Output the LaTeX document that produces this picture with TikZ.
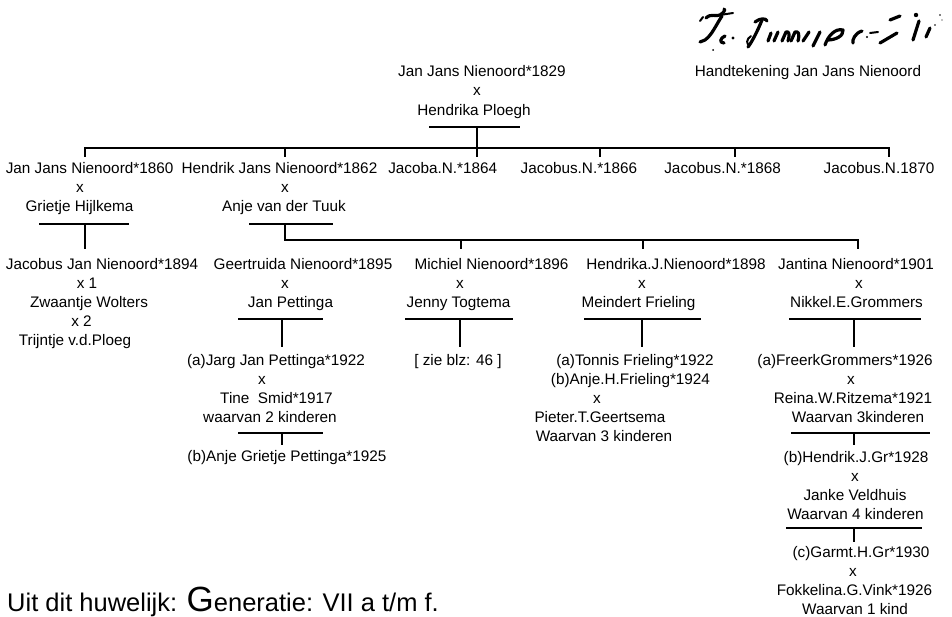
\documentclass[tikz,border=0pt]{standalone}
\usepackage{fontspec}
\setmainfont{Liberation Sans}
\usetikzlibrary{calc}
\begin{document}
\begin{tikzpicture}[x=1pt,y=-1pt,
  t/.style={font=\fontsize{15.3}{19}\selectfont, inner sep=0pt, anchor=base},
  ln/.style={line width=2.5pt},
  sig/.style={line width=3.2pt, line cap=round, line join=round},
  sigthin/.style={line width=2pt, line cap=round, line join=round},
  dotsig/.style={fill=black}
]
\useasboundingbox (0,0) rectangle (952,617);

% ---------- signature ----------
\draw[sigthin] (700,21) -- (703,17);
\draw[sig] (706,18) .. controls (711,13) and (716,17) .. (720,15) .. controls (723,13) and (726,10) .. (724,9);
\draw[sigthin] (720,15) -- (733,13);
\draw[sig] (722,16) .. controls (716,25) and (712,35) .. (705,40) -- (700,42);
\draw[sig] (725,36) .. controls (720,38) and (719,43) .. (724,43);
\fill[dotsig] (733,38) circle (1.6);
\fill[dotsig] (713,50) circle (1);
\draw[sig] (755,22) .. controls (760,18) and (766,18) .. (767,21);
\draw[sig] (762,20) .. controls (758,30) and (752,42) .. (748,47);
\draw[sigthin] (751,36) .. controls (746,39) and (746,45) .. (750,45);
\draw[sig] (768,41) -- (771,33);
\draw[sig] (774,41) -- (778,32);
\draw[sig] (782,41) -- (786,32) .. controls (789,31) and (790,34) .. (788,41);
\draw[sig] (791,41) -- (795,32) .. controls (798,31) and (800,33) .. (798,41);
\draw[sig] (803,41) -- (809,32);
\draw[sig] (813,46) -- (820,32);
\draw[sig] (825,45) .. controls (828,36) and (835,28) .. (843,30) .. controls (844,36) and (835,40) .. (828,40);
\draw[sig] (862,31) .. controls (855,33) and (852,40) .. (853,43);
\fill[dotsig] (867,37) circle (1.2);
\draw[sigthin] (870,33) -- (878,32);
\draw[sig] (880,43) -- (897,33);
\draw[sig] (890,20) -- (900,16);
\fill[dotsig] (916,15) circle (2.2);
\draw[sig] (919,21) -- (913,40);
\draw[sig] (930,28) -- (926,37);
\fill[dotsig] (935,25) circle (0.8);
\fill[dotsig] (940,15) circle (0.8);
\fill[dotsig] (942,20) circle (0.6);
\node[t] (hand) at (808,77) {Handtekening Jan Jans Nienoord};

% ---------- generation 1 ----------
\node[t] (p0) at (482,77) {Jan Jans Nienoord*1829};
\node[t] (p0x) at (477,96) {x};
\node[t] (p0s) at (474,115.5) {Hendrika Ploegh};

\coordinate (u0l) at (429,127); \coordinate (u0r) at (520,127);
\coordinate (u0m) at (477,127); \coordinate (b1m) at (477,148);
\draw[ln] (u0l) -- (u0r);
\draw[ln] (u0m) -- (b1m);

\coordinate (b1a) at (85,148);  \coordinate (b1b) at (285,148);
\coordinate (b1d) at (600,148); \coordinate (b1e) at (735,148);
\coordinate (b1f) at (889,148);
\draw[ln] ($(b1a)+(0,9)$) -- (b1a) -- (b1f) -- ($(b1f)+(0,9)$);
\draw[ln] (b1b) -- ++(0,9);
\draw[ln] (b1m) -- ++(0,9);
\draw[ln] (b1d) -- ++(0,9);
\draw[ln] (b1e) -- ++(0,9);

% ---------- generation 2 ----------
\node[t] (c1) at (89.6,173.3) {Jan Jans Nienoord*1860};
\node[t] (c1x) at (80,192.3) {x};
\node[t] (c1s) at (79.5,211.3) {Grietje Hijlkema};
\node[t] (c2) at (279.5,173.3) {Hendrik Jans Nienoord*1862};
\node[t] (c2x) at (285,192.3) {x};
\node[t] (c2s) at (284,211.3) {Anje van der Tuuk};
\node[t] (c3) at (442.7,173.3) {Jacoba.N.*1864};
\node[t] (c4) at (579,173.3) {Jacobus.N.*1866};
\node[t] (c5) at (722.6,173.3) {Jacobus.N.*1868};
\node[t] (c6) at (879,173.3) {Jacobus.N.1870};

\coordinate (u1l) at (39,224); \coordinate (u1r) at (129,224);
\coordinate (u1m) at (85,224);
\draw[ln] (u1l) -- (u1r);
\draw[ln] (u1m) -- (85,249);

\coordinate (u2l) at (249,224); \coordinate (u2r) at (333,224);
\coordinate (u2m) at (285,224);
\draw[ln] (u2l) -- (u2r);
\coordinate (b2a) at (285,240); \coordinate (b2b) at (461,240);
\coordinate (b2c) at (643,240); \coordinate (b2d) at (858,240);
\draw[ln] (u2m) -- (b2a) -- (b2d) -- ++(0,9);
\draw[ln] (b2b) -- ++(0,9);
\draw[ln] (b2c) -- ++(0,9);

% ---------- generation 3 ----------
\node[t] (g1) at (102,269.3) {Jacobus Jan Nienoord*1894};
\node[t] (g1x) at (87,288.3) {x 1};
\node[t] (g1s) at (89,307.3) {Zwaantje Wolters};
\node[t] (g1y) at (81.5,326.3) {x 2};
\node[t] (g1t) at (75,345.3) {Trijntje v.d.Ploeg};

\node[t] (g2) at (303,269.3) {Geertruida Nienoord*1895};
\node[t] (g2x) at (285,288.3) {x};
\node[t] (g2s) at (290.5,307.3) {Jan Pettinga};

\node[t] (g3) at (491.5,269.3) {Michiel Nienoord*1896};
\node[t] (g3x) at (460,288.3) {x};
\node[t] (g3s) at (458.5,307.3) {Jenny Togtema};

\node[t] (g4) at (676,269.3) {Hendrika.J.Nienoord*1898};
\node[t] (g4x) at (642,288.3) {x};
\node[t] (g4s) at (638.5,307.3) {Meindert Frieling};

\node[t] (g5) at (856,269.3) {Jantina Nienoord*1901};
\node[t] (g5x) at (859,288.3) {x};
\node[t] (g5s) at (856.5,307.3) {Nikkel.E.Grommers};

% underlines generation 3
\draw[ln] (238,319) -- (323,319);  \draw[ln] (282,319) -- (282,347);
\draw[ln] (405,319) -- (513,319);  \draw[ln] (460,319) -- (460,347);
\draw[ln] (584,319) -- (701,319);  \draw[ln] (642,319) -- (642,347);
\draw[ln] (789,319) -- (921,319);  \draw[ln] (854,319) -- (854,347);

% ---------- generation 4 ----------
\node[t] (k1) at (276,365.5) {(a)Jarg Jan Pettinga*1922};
\node[t] (k1x) at (262,384.5) {x};
\node[t] (k1s) at (276.5,403.5) {Tine\ \ Smid*1917};
\node[t] (k1w) at (270,422.5) {waarvan 2 kinderen};
\draw[ln] (238,433) -- (323,433);  \draw[ln] (282,433) -- (282,445);
\node[t] (k2) at (287,461.5) {(b)Anje Grietje Pettinga*1925};

\node[t] (k3) at (458,365.5) {[ zie blz: 46 ]};

\node[t] (k4) at (635,365.5) {(a)Tonnis Frieling*1922};
\node[t] (k5) at (630.5,384.5) {(b)Anje.H.Frieling*1924};
\node[t] (k5x) at (597,403.5) {x};
\node[t] (k5s) at (600,422.5) {Pieter.T.Geertsema};
\node[t] (k5w) at (604,441.5) {Waarvan 3 kinderen};

\node[t] (k6) at (845,365.5) {(a)FreerkGrommers*1926};
\node[t] (k6x) at (851,384.5) {x};
\node[t] (k6s) at (853,403.5) {Reina.W.Ritzema*1921};
\node[t] (k6w) at (858,422.5) {Waarvan 3kinderen};
\draw[ln] (791,433) -- (930,433);  \draw[ln] (854,433) -- (854,445);
\node[t] (k7) at (856,462) {(b)Hendrik.J.Gr*1928};
\node[t] (k7x) at (855,481) {x};
\node[t] (k7s) at (855,500) {Janke Veldhuis};
\node[t] (k7w) at (855.5,519) {Waarvan 4 kinderen};
\draw[ln] (786,528) -- (922,528);  \draw[ln] (854,528) -- (854,542);
\node[t] (k8) at (861,557.5) {(c)Garmt.H.Gr*1930};
\node[t] (k8x) at (853,576.5) {x};
\node[t] (k8s) at (854.5,595.5) {Fokkelina.G.Vink*1926};
\node[t] (k8w) at (855,614.5) {Waarvan 1 kind};

% ---------- footer ----------
\node[inner sep=0pt, anchor=base west, font=\fontsize{25.5}{30}\selectfont] (foot) at (7,611)
  {Uit dit huwelijk: {\fontsize{35}{40}\selectfont G}eneratie: VII a t/m f.};
\end{tikzpicture}
\end{document}
